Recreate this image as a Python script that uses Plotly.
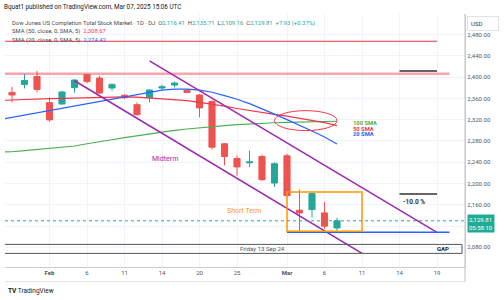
import plotly.graph_objects as go

# ---------------- data ----------------
trading_days = ["Jan 28", "Jan 29", "Jan 30", "Jan 31", "Feb 3", "Feb 4", "Feb 5", "Feb 6", "Feb 7",
                "Feb 10", "Feb 11", "Feb 12", "Feb 13", "Feb 14", "Feb 18", "Feb 19", "Feb 20",
                "Feb 21", "Feb 24", "Feb 25", "Feb 26", "Feb 27", "Feb 28", "Mar 3", "Mar 4",
                "Mar 5", "Mar 6", "Mar 7", "Mar 10", "Mar 11", "Mar 12", "Mar 13", "Mar 14",
                "Mar 17", "Mar 18", "Mar 19", "Mar 20", "Mar 21"]

candle_days = trading_days[1:28]
opens = [2371.3, 2386.3, 2401.2, 2352.0, 2349.5, 2380.6, 2404.4, 2398.2, 2379.5, 2366.0, 2348.2,
         2361.3, 2379.5, 2385.1, 2375.0, 2366.4, 2354.4, 2274.6, 2247.1, 2239.0, 2250.9, 2200.9,
         2252.2, 2149.7, 2151.0, 2144.7, 2116.41]
highs = [2381.9, 2405.7, 2411.9, 2361.9, 2374.5, 2396.0, 2405.7, 2402.5, 2388.1, 2368.0, 2352.5,
         2377.0, 2385.7, 2391.9, 2377.0, 2368.0, 2356.0, 2276.0, 2252.7, 2262.0, 2254.0, 2239.6,
         2255.9, 2188.5, 2183.4, 2165.3, 2135.71]
lows = [2352.5, 2378.8, 2371.3, 2316.4, 2348.2, 2370.7, 2388.0, 2368.3, 2374.5, 2359.0, 2327.6,
        2352.5, 2374.5, 2380.6, 2370.1, 2324.5, 2264.0, 2234.0, 2214.3, 2230.8, 2205.0, 2193.4,
        2175.0, 2109.1, 2136.1, 2115.0, 2109.16]
closes = [2366.4, 2393.7, 2376.9, 2319.6, 2372.0, 2394.5, 2391.9, 2370.1, 2386.3, 2361.3, 2329.5,
          2375.8, 2381.9, 2388.9, 2371.3, 2342.1, 2268.3, 2250.9, 2231.2, 2240.6, 2207.2, 2237.2,
          2177.3, 2144.7, 2181.0, 2119.8, 2129.81]

sma_days = trading_days[0:28]
sma20 = [2320.0, 2324.3, 2328.6, 2333.3, 2338.0, 2341.7, 2345.4, 2350.1, 2354.8, 2359.5, 2363.2,
         2367.9, 2371.6, 2375.4, 2377.3, 2377.6, 2375.4, 2371.6, 2365.1, 2358.5, 2350.1, 2340.7,
         2330.4, 2320.1, 2309.8, 2298.6, 2287.4, 2274.42]
sma50 = [2356.2, 2356.7, 2357.6, 2358.6, 2359.5, 2360.2, 2360.8, 2361.3, 2362.3, 2363.2, 2363.0,
         2362.3, 2361.0, 2359.5, 2357.6, 2355.7, 2352.5, 2349.2, 2345.5, 2341.0, 2337.0, 2333.3,
         2330.0, 2326.7, 2323.0, 2319.2, 2314.5, 2308.67]
sma100 = [2259.6, 2259.7, 2261.7, 2263.6, 2265.5, 2267.5, 2270.5, 2274.8, 2278.0, 2282.3, 2286.4,
          2290.0, 2293.6, 2296.9, 2299.9, 2302.5, 2305.0, 2307.0, 2308.9, 2310.6, 2312.1, 2313.2,
          2314.2, 2314.9, 2315.7, 2316.2, 2316.6, 2317.0]

tick_days = ["Feb 3", "Feb 6", "Feb 11", "Feb 14", "Feb 20", "Feb 25", "Mar 3", "Mar 6", "Mar 11",
             "Mar 14", "Mar 19"]
tick_text = ["<b>Feb</b>", "6", "11", "14", "20", "25", "<b>Mar</b>", "6", "11", "14", "19"]
price_ticks = [2080, 2120, 2160, 2200, 2240, 2280, 2320, 2360, 2400, 2440, 2480]
hidden_price_ticks = [2120]  # covered by the last-price label

last_close = 2129.81

# drawings (date, price)
upper_trend = [("Feb 13", 2430.6), ("Mar 19", 2108.0)]
lower_trend = [("Feb 5", 2393.2), ("Mar 11", 2068.6)]
short_box = [("Mar 3", 2110.4), ("Mar 11", 2184.0)]
support_line = [("Mar 3", 2108.5), ("Mar 20", 2108.5)]
top_red = [("Jan 28", 2467.5), ("Mar 19", 2467.5)]
pink_line = [("Jan 28", 2406.3), ("Mar 20", 2406.3)]
target_line = [("Mar 14", 2411.3), ("Mar 19", 2411.3)]
minus10_line = [("Mar 14", 2180.3), ("Mar 19", 2180.3)]
cross_ellipse = [("Feb 28", 2299.5), ("Mar 7", 2337.0)]
gap_box = [("Jan 28", 2068.6), ("Mar 21", 2085.5)]


def ix(day):
    return trading_days.index(day)


TEAL = "#26a69a"
RED = "#ef5350"
PURPLE = "#9c27b0"
FONT = "Roboto"

fig = go.Figure()

fig.add_trace(go.Scatter(x=[ix(d) for d in sma_days], y=sma100, mode="lines",
                         line=dict(color="#4caf50", width=1.2), hoverinfo="skip"))
fig.add_trace(go.Scatter(x=[ix(d) for d in sma_days], y=sma50, mode="lines",
                         line=dict(color="#f23645", width=1.2), hoverinfo="skip"))
fig.add_trace(go.Scatter(x=[ix(d) for d in sma_days], y=sma20, mode="lines",
                         line=dict(color="#2962ff", width=1.2), hoverinfo="skip"))

fig.add_trace(go.Candlestick(
    x=[ix(d) for d in candle_days], open=opens, high=highs, low=lows, close=closes,
    increasing=dict(line=dict(color=TEAL, width=1), fillcolor=TEAL),
    decreasing=dict(line=dict(color=RED, width=1), fillcolor=RED),
    whiskerwidth=0, hoverinfo="skip"))

shapes = []


def seg(pts, color, width, dash="solid"):
    (d0, p0), (d1, p1) = pts
    shapes.append(dict(type="line", xref="x", yref="y", x0=ix(d0), y0=p0, x1=ix(d1), y1=p1,
                       line=dict(color=color, width=width, dash=dash)))


seg(top_red, "#f23645", 1.2)
seg(pink_line, "rgba(242,54,69,0.45)", 2.5)
seg(target_line, "#333333", 1.5)
seg(minus10_line, "#333333", 1.5)
seg(upper_trend, PURPLE, 1.5)
seg(lower_trend, PURPLE, 1.5)
seg(support_line, "#2962ff", 1.5)

(d0, p0), (d1, p1) = short_box
shapes.append(dict(type="rect", xref="x", yref="y", x0=ix(d0), y0=p0, x1=ix(d1), y1=p1,
                   line=dict(color="#ff9800", width=1.5)))
(d0, p0), (d1, p1) = cross_ellipse
shapes.append(dict(type="circle", xref="x", yref="y", x0=ix(d0), y0=p0, x1=ix(d1), y1=p1,
                   line=dict(color="#f23645", width=1)))
(d0, p0), (d1, p1) = gap_box
shapes.append(dict(type="rect", xref="x", yref="y", x0=ix(d0), y0=p0, x1=ix(d1), y1=p1,
                   line=dict(color="#555555", width=1)))
shapes.append(dict(type="line", xref="paper", yref="y", x0=0, x1=1, y0=last_close, y1=last_close,
                   line=dict(color=TEAL, width=1, dash="dot")))
# frame lines
shapes.append(dict(type="line", xref="paper", yref="paper", x0=1, x1=1, y0=-0.058, y1=1,
                   line=dict(color="#c9ccd3", width=1.2)))
shapes.append(dict(type="line", xref="paper", yref="paper", x0=0, x1=1, y0=-0.058, y1=-0.058,
                   line=dict(color="#e0e3eb", width=1)))

ann = []


def txt(x, y, text, color, size, xanchor="left", xref="x", yref="y", **kw):
    ann.append(dict(x=x, y=y, xref=xref, yref=yref, text=text, showarrow=False,
                    xanchor=xanchor, yanchor="middle",
                    font=dict(family=FONT, size=size, color=color), **kw))


txt(13.2, 2246.5, "Midterm", PURPLE, 7, xanchor="center")
txt(19.6, 2147.9, "Short Term", "#ff9800", 7, xanchor="center")
txt(32.1, 2165.3, "<b>-10.0 %</b>", "#333333", 6.5)
txt(21.0, 2077.0, "Friday 13 Sep 24", "#555555", 6, xanchor="center")
txt(35.5, 2077.0, "<b>GAP</b>", "#222222", 6, xanchor="center")
txt(28.1, 2313.6, "<b>100 SMA</b>", "#4caf50", 5.8)
txt(28.1, 2303.3, "<b>50 SMA</b>", "#f23645", 5.8)
txt(28.1, 2293.0, "<b>20 SMA</b>", "#2962ff", 5.8)

# header
vc = TEAL
txt(-0.0065, 1.0277, "Bquat1 published on TradingView.com, Mar 07, 2025 15:06 UTC", "#131722", 6.3,
    xref="paper", yref="paper")
txt(0.0109, 0.9644,
    "Dow Jones US Completion Total Stock Market · 1D · DJ  "
    f"O<span style='color:{vc}'>2,116.41</span>  H<span style='color:{vc}'>2,135.71</span>  "
    f"L<span style='color:{vc}'>2,109.16</span>  C<span style='color:{vc}'>2,129.81</span>  "
    f"<span style='color:{vc}'>+7.93 (+0.37%)</span>", "#4a4a4a", 5.9, xref="paper", yref="paper")
txt(0.0109, 0.9289, "SMA (50, close, 0, SMA, 5)  <span style='color:#f23645'>2,308.67</span>",
    "#4a4a4a", 5.9, xref="paper", yref="paper")
txt(0.0109, 0.8933, "SMA (20, close, 0, SMA, 5)  <span style='color:#2962ff'>2,274.42</span>",
    "#4a4a4a", 5.9, xref="paper", yref="paper")
txt(0.002, -0.0949, "<b>TV</b> TradingView", "#131722", 6.5, xref="paper", yref="paper")

# price axis labels
ann.append(dict(x=1, y=last_close, xref="paper", yref="y", xanchor="left", yanchor="middle",
                xshift=2, yshift=-3, text="2,129.81<br>05:58:10", showarrow=False,
                bgcolor="#22ab94", borderpad=1, align="center",
                font=dict(family=FONT, size=6, color="white")))
ann.append(dict(x=1, y=1, xref="paper", yref="paper", xanchor="left", yanchor="top",
                xshift=2, yshift=-2, text="USD", showarrow=False, bgcolor="white",
                bordercolor="#e0e3eb", borderwidth=1, borderpad=3, width=24, align="left",
                font=dict(family=FONT, size=6, color="#333333")))

price_tick_text = ["" if p in hidden_price_ticks else f"{p:,.2f}" for p in price_ticks]

fig.update_layout(
    width=504, height=300,
    margin=dict(l=5, r=39, t=14, b=33),
    paper_bgcolor="white", plot_bgcolor="white",
    showlegend=False,
    shapes=shapes, annotations=ann,
    xaxis=dict(range=[0.44, 37.24], tickvals=[ix(d) for d in tick_days], ticktext=tick_text,
               showgrid=True, gridcolor="#f0f3fa", zeroline=False, rangeslider=dict(visible=False),
               showline=True, linecolor="#c9ccd3", linewidth=1, ticks="",
               tickfont=dict(family=FONT, size=6, color="#555555")),
    yaxis=dict(range=[2043.0, 2518.7], side="right", tickvals=price_ticks,
               ticktext=price_tick_text,
               showgrid=True, gridcolor="#f0f3fa", zeroline=False, showline=True,
               linecolor="#c9ccd3", linewidth=1.2, ticks="",
               tickfont=dict(family=FONT, size=6, color="#555555")),
)

fig.write_html("out.html")
